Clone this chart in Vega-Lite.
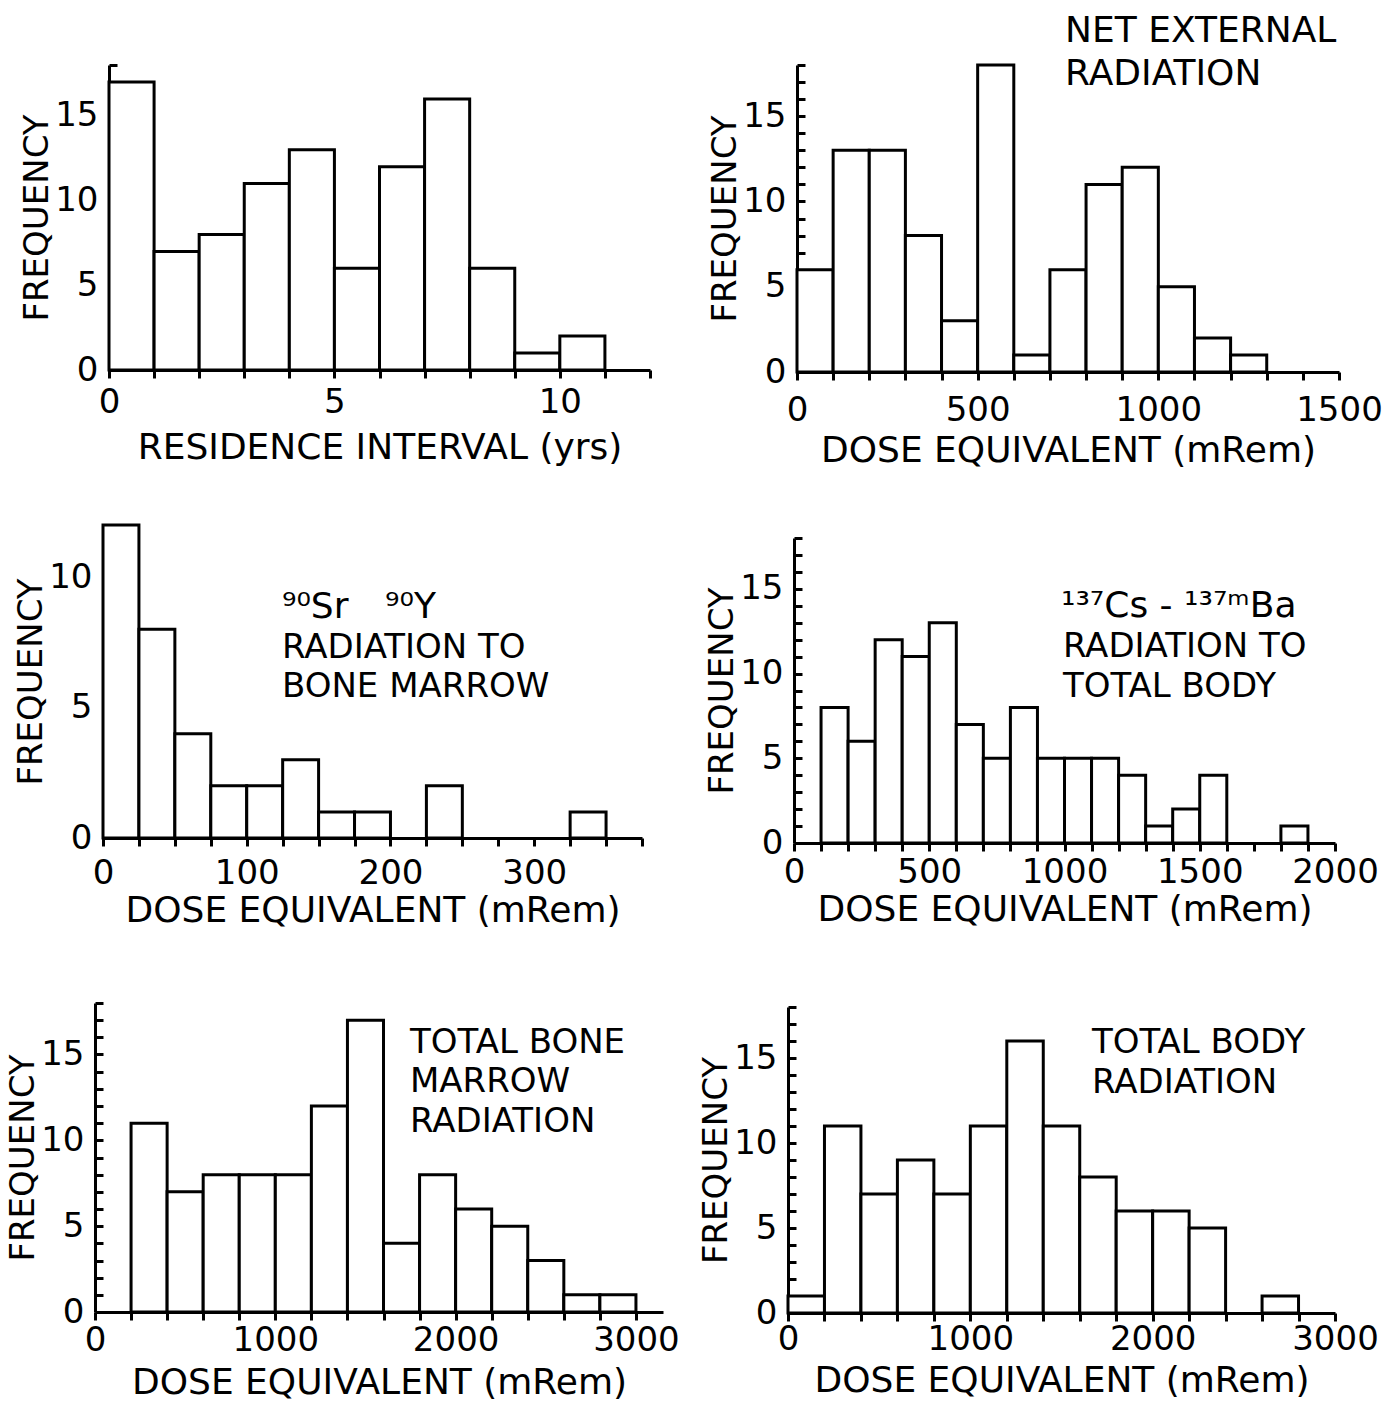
{
  "$schema": "https://vega.github.io/schema/vega-lite/v6.json",
  "background": "white",
  "padding": {"left": 6, "top": 13, "right": 5, "bottom": 5},
  "config": {
    "view": {"stroke": null},
    "font": "DejaVu Sans",
    "axis": {"domainColor": "black", "domainWidth": 3, "tickColor": "black", "tickWidth": 3, "labelColor": "black", "titleColor": "black", "labelFontSize": 34, "titleFontSize": 36, "titleFontWeight": "normal", "grid": false, "labelFlush": false, "labelOverlap": false, "labelBound": false, "zindex": 1},
    "axisX": {"tickSize": 8},
    "axisY": {"tickSize": -8, "titleFontSize": 34, "labelPadding": 19, "titlePadding": 0},
    "text": {"color": "black", "align": "left", "baseline": "alphabetic", "fontSize": 34}
  },
  "datasets": {
    "p1": [{"start":0,"end":1,"count":17},{"start":1,"end":2,"count":7},{"start":2,"end":3,"count":8},{"start":3,"end":4,"count":11},{"start":4,"end":5,"count":13},{"start":5,"end":6,"count":6},{"start":6,"end":7,"count":12},{"start":7,"end":8,"count":16},{"start":8,"end":9,"count":6},{"start":9,"end":10,"count":1},{"start":10,"end":11,"count":2}],
    "p2": [{"start":0,"end":100,"count":6},{"start":100,"end":200,"count":13},{"start":200,"end":300,"count":13},{"start":300,"end":400,"count":8},{"start":400,"end":500,"count":3},{"start":500,"end":600,"count":18},{"start":600,"end":700,"count":1},{"start":700,"end":800,"count":6},{"start":800,"end":900,"count":11},{"start":900,"end":1000,"count":12},{"start":1000,"end":1100,"count":5},{"start":1100,"end":1200,"count":2},{"start":1200,"end":1300,"count":1}],
    "p3": [{"start":0,"end":25,"count":12},{"start":25,"end":50,"count":8},{"start":50,"end":75,"count":4},{"start":75,"end":100,"count":2},{"start":100,"end":125,"count":2},{"start":125,"end":150,"count":3},{"start":150,"end":175,"count":1},{"start":175,"end":200,"count":1},{"start":225,"end":250,"count":2},{"start":325,"end":350,"count":1}],
    "p4": [{"start":100,"end":200,"count":8},{"start":200,"end":300,"count":6},{"start":300,"end":400,"count":12},{"start":400,"end":500,"count":11},{"start":500,"end":600,"count":13},{"start":600,"end":700,"count":7},{"start":700,"end":800,"count":5},{"start":800,"end":900,"count":8},{"start":900,"end":1000,"count":5},{"start":1000,"end":1100,"count":5},{"start":1100,"end":1200,"count":5},{"start":1200,"end":1300,"count":4},{"start":1300,"end":1400,"count":1},{"start":1400,"end":1500,"count":2},{"start":1500,"end":1600,"count":4},{"start":1800,"end":1900,"count":1}],
    "p5": [{"start":200,"end":400,"count":11},{"start":400,"end":600,"count":7},{"start":600,"end":800,"count":8},{"start":800,"end":1000,"count":8},{"start":1000,"end":1200,"count":8},{"start":1200,"end":1400,"count":12},{"start":1400,"end":1600,"count":17},{"start":1600,"end":1800,"count":4},{"start":1800,"end":2000,"count":8},{"start":2000,"end":2200,"count":6},{"start":2200,"end":2400,"count":5},{"start":2400,"end":2600,"count":3},{"start":2600,"end":2800,"count":1},{"start":2800,"end":3000,"count":1}],
    "p6": [{"start":0,"end":200,"count":1},{"start":200,"end":400,"count":11},{"start":400,"end":600,"count":7},{"start":600,"end":800,"count":9},{"start":800,"end":1000,"count":7},{"start":1000,"end":1200,"count":11},{"start":1200,"end":1400,"count":16},{"start":1400,"end":1600,"count":11},{"start":1600,"end":1800,"count":8},{"start":1800,"end":2000,"count":6},{"start":2000,"end":2200,"count":6},{"start":2200,"end":2400,"count":5},{"start":2600,"end":2800,"count":1}]
  },
  "columns": 2,
  "bounds": "flush",
  "align": "each",
  "spacing": {"row": 153, "column": 125},
  "concat": [
    {
      "width": 555, "height": 305,
      "resolve": {"axis": {"x": "independent", "y": "independent"}},
      "layer": [
        {
          "data": {"name": "p1"},
          "mark": {"type": "bar", "fill": "white", "stroke": "black", "strokeWidth": 3},
          "encoding": {
            "x": {"field": "start", "type": "quantitative", "scale": {"domain": [0, 12], "range": [14, 555], "nice": false, "zero": false},
              "axis": {"title": "RESIDENCE INTERVAL (yrs)", "values": [0,1,2,3,4,5,6,7,8,9,10,11,12], "format": "d", "labelOverlap": false, "labelExpr": "datum.value % 5 === 0 ? datum.label : ''", "labelPadding": 7, "titlePadding": 11}},
            "x2": {"field": "end"},
            "y": {"field": "count", "type": "quantitative", "scale": {"domain": [0, 18], "range": [305, 0], "nice": false},
              "axis": {"title": "FREQUENCY", "values": [0,1,2,3,4,5,6,7,8,9,10,11,12,13,14,15,16,17,18], "format": "d", "labelOverlap": false, "labelExpr": "datum.value % 5 === 0 ? datum.label : ''", "offset": -14}},
            "y2": {"datum": 0}
          }
        }
      ]
    },
    {
      "width": 551, "height": 307,
      "resolve": {"axis": {"x": "independent", "y": "independent"}},
      "layer": [
        {
          "data": {"name": "p2"},
          "mark": {"type": "bar", "fill": "white", "stroke": "black", "strokeWidth": 3},
          "encoding": {
            "x": {"field": "start", "type": "quantitative", "scale": {"domain": [0, 1500], "range": [9, 551], "nice": false, "zero": false},
              "axis": {"title": "DOSE EQUIVALENT (mRem)", "values": [0,100,200,300,400,500,600,700,800,900,1000,1100,1200,1300,1400,1500], "format": "d", "labelOverlap": false, "labelExpr": "datum.value % 500 === 0 ? datum.label : ''", "labelPadding": 13, "titlePadding": 6}},
            "x2": {"field": "end"},
            "y": {"field": "count", "type": "quantitative", "scale": {"domain": [0, 18], "range": [307, 0], "nice": false},
              "axis": {"title": "FREQUENCY", "values": [0,1,2,3,4,5,6,7,8,9,10,11,12,13,14,15,16,17,18], "format": "d", "labelOverlap": false, "labelExpr": "datum.value % 5 === 0 ? datum.label : ''", "offset": -9}},
            "y2": {"datum": 0}
          }
        },
        {"data": {"values": [{}]}, "mark": {"type": "text", "text": "NET EXTERNAL", "fontSize": 36}, "encoding": {"x": {"datum": 742, "axis": null}, "y": {"datum": 19.34, "axis": null}}},
        {"data": {"values": [{}]}, "mark": {"type": "text", "text": "RADIATION", "fontSize": 36}, "encoding": {"x": {"datum": 742, "axis": null}, "y": {"datum": 16.82, "axis": null}}}
      ]
    },
    {
      "width": 547, "height": 313,
      "resolve": {"axis": {"x": "independent", "y": "independent"}},
      "layer": [
        {
          "data": {"name": "p3"},
          "mark": {"type": "bar", "fill": "white", "stroke": "black", "strokeWidth": 3},
          "encoding": {
            "x": {"field": "start", "type": "quantitative", "scale": {"domain": [0, 375], "range": [8, 547], "nice": false, "zero": false},
              "axis": {"title": "DOSE EQUIVALENT (mRem)", "values": [0,25,50,75,100,125,150,175,200,225,250,275,300,325,350,375], "format": "d", "labelOverlap": false, "labelExpr": "datum.value % 100 === 0 ? datum.label : ''", "labelPadding": 10, "titlePadding": 3}},
            "x2": {"field": "end"},
            "y": {"field": "count", "type": "quantitative", "scale": {"domain": [0, 12], "range": [313, 0], "nice": false},
              "axis": {"title": "FREQUENCY", "values": [0,1,2,3,4,5,6,7,8,9,10,11,12], "format": "d", "labelOverlap": false, "labelExpr": "datum.value % 5 === 0 ? datum.label : ''", "offset": -8}},
            "y2": {"datum": 0}
          }
        },
        {"data": {"values": [{}]}, "mark": {"type": "text", "text": "⁹⁰Sr \u2002\u2009⁹⁰Y", "fontSize": 36}, "encoding": {"x": {"datum": 124.5, "axis": null}, "y": {"datum": 8.44, "axis": null}}},
        {"data": {"values": [{}]}, "mark": {"type": "text", "text": "RADIATION TO"}, "encoding": {"x": {"datum": 124.5, "axis": null}, "y": {"datum": 6.9, "axis": null}}},
        {"data": {"values": [{}]}, "mark": {"type": "text", "text": "BONE MARROW"}, "encoding": {"x": {"datum": 124.5, "axis": null}, "y": {"datum": 5.41, "axis": null}}}
      ]
    },
    {
      "width": 547, "height": 318,
      "resolve": {"axis": {"x": "independent", "y": "independent"}},
      "layer": [
        {
          "data": {"name": "p4"},
          "mark": {"type": "bar", "fill": "white", "stroke": "black", "strokeWidth": 3},
          "encoding": {
            "x": {"field": "start", "type": "quantitative", "scale": {"domain": [0, 2000], "range": [6, 547], "nice": false, "zero": false},
              "axis": {"title": "DOSE EQUIVALENT (mRem)", "values": [0,100,200,300,400,500,600,700,800,900,1000,1100,1200,1300,1400,1500,1600,1700,1800,1900,2000], "format": "d", "labelOverlap": false, "labelExpr": "datum.value % 500 === 0 ? datum.label : ''", "labelPadding": 4, "titlePadding": 3}},
            "x2": {"field": "end"},
            "y": {"field": "count", "type": "quantitative", "scale": {"domain": [0, 18], "range": [318, 13], "nice": false},
              "axis": {"title": "FREQUENCY", "values": [0,1,2,3,4,5,6,7,8,9,10,11,12,13,14,15,16,17,18], "format": "d", "labelOverlap": false, "labelExpr": "datum.value % 5 === 0 ? datum.label : ''", "offset": -6}},
            "y2": {"datum": 0}
          }
        },
        {"data": {"values": [{}]}, "mark": {"type": "text", "text": "¹³⁷Cs - ¹³⁷ᵐBa", "fontSize": 36}, "encoding": {"x": {"datum": 987, "axis": null}, "y": {"datum": 13.32, "axis": null}}},
        {"data": {"values": [{}]}, "mark": {"type": "text", "text": "RADIATION TO"}, "encoding": {"x": {"datum": 994, "axis": null}, "y": {"datum": 10.98, "axis": null}}},
        {"data": {"values": [{}]}, "mark": {"type": "text", "text": "TOTAL BODY"}, "encoding": {"x": {"datum": 994, "axis": null}, "y": {"datum": 8.62, "axis": null}}}
      ]
    },
    {
      "width": 568, "height": 316,
      "resolve": {"axis": {"x": "independent", "y": "independent"}},
      "layer": [
        {
          "data": {"name": "p5"},
          "mark": {"type": "bar", "fill": "white", "stroke": "black", "strokeWidth": 3},
          "encoding": {
            "x": {"field": "start", "type": "quantitative", "scale": {"domain": [0, 3150], "range": [0, 568], "nice": false, "zero": false},
              "axis": {"title": "DOSE EQUIVALENT (mRem)", "values": [0,200,400,600,800,1000,1200,1400,1600,1800,2000,2200,2400,2600,2800,3000], "format": "d", "labelOverlap": false, "labelExpr": "datum.value % 1000 === 0 ? datum.label : ''", "labelPadding": 3, "titlePadding": 8}},
            "x2": {"field": "end"},
            "y": {"field": "count", "type": "quantitative", "scale": {"domain": [0, 18], "range": [316, 7], "nice": false},
              "axis": {"title": "FREQUENCY", "values": [0,1,2,3,4,5,6,7,8,9,10,11,12,13,14,15,16,17,18], "format": "d", "labelOverlap": false, "labelExpr": "datum.value % 5 === 0 ? datum.label : ''"}},
            "y2": {"datum": 0}
          }
        },
        {"data": {"values": [{}]}, "mark": {"type": "text", "text": "TOTAL BONE"}, "encoding": {"x": {"datum": 1747, "axis": null}, "y": {"datum": 15.08, "axis": null}}},
        {"data": {"values": [{}]}, "mark": {"type": "text", "text": "MARROW"}, "encoding": {"x": {"datum": 1747, "axis": null}, "y": {"datum": 12.81, "axis": null}}},
        {"data": {"values": [{}]}, "mark": {"type": "text", "text": "RADIATION"}, "encoding": {"x": {"datum": 1747, "axis": null}, "y": {"datum": 10.48, "axis": null}}}
      ]
    },
    {
      "width": 547, "height": 317,
      "resolve": {"axis": {"x": "independent", "y": "independent"}},
      "layer": [
        {
          "data": {"name": "p6"},
          "mark": {"type": "bar", "fill": "white", "stroke": "black", "strokeWidth": 3},
          "encoding": {
            "x": {"field": "start", "type": "quantitative", "scale": {"domain": [0, 3000], "range": [0, 547], "nice": false, "zero": false},
              "axis": {"title": "DOSE EQUIVALENT (mRem)", "values": [0,200,400,600,800,1000,1200,1400,1600,1800,2000,2200,2400,2600,2800,3000], "format": "d", "labelOverlap": false, "labelExpr": "datum.value % 1000 === 0 ? datum.label : ''", "labelPadding": 1, "titlePadding": 7}},
            "x2": {"field": "end"},
            "y": {"field": "count", "type": "quantitative", "scale": {"domain": [0, 18], "range": [317, 11], "nice": false},
              "axis": {"title": "FREQUENCY", "values": [0,1,2,3,4,5,6,7,8,9,10,11,12,13,14,15,16,17,18], "format": "d", "labelOverlap": false, "labelExpr": "datum.value % 5 === 0 ? datum.label : ''"}},
            "y2": {"datum": 0}
          }
        },
        {"data": {"values": [{}]}, "mark": {"type": "text", "text": "TOTAL BODY"}, "encoding": {"x": {"datum": 1667, "axis": null}, "y": {"datum": 15.29, "axis": null}}},
        {"data": {"values": [{}]}, "mark": {"type": "text", "text": "RADIATION"}, "encoding": {"x": {"datum": 1667, "axis": null}, "y": {"datum": 12.94, "axis": null}}}
      ]
    }
  ]
}
